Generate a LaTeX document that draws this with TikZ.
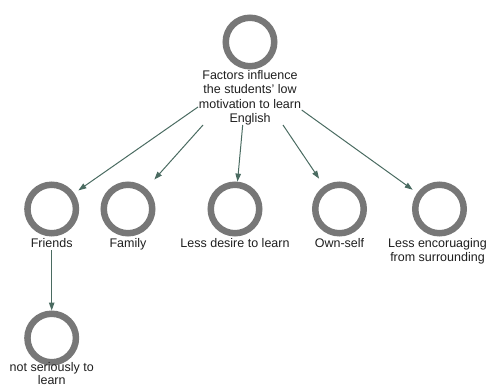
\documentclass[tikz,border=0pt]{standalone}
\usepackage{fontspec}
\setmainfont{Liberation Sans}
\usetikzlibrary{arrows.meta}
\definecolor{ringc}{HTML}{777777}
\definecolor{connc}{HTML}{4A6B61}
\definecolor{txtc}{HTML}{1E1E1E}
\begin{document}
\begin{tikzpicture}[x=1pt,y=-1pt,
  ringnode/.style={circle,draw=ringc,line width=6.5pt,minimum size=48.5pt,inner sep=0pt},
  lbl/.style={font=\fontsize{12.5}{14.3}\selectfont,text=txtc,inner sep=0pt,align=center,anchor=base},
  conn/.style={draw=connc,line width=1pt,-{Triangle[length=8pt,width=5.5pt]}}]
\useasboundingbox (0,0) rectangle (488,388);
% circles
\node[ringnode] (top) at (250,42) {};
\node[ringnode] (friends) at (51.7,209) {};
\node[ringnode] (family) at (128,209) {};
\node[ringnode] (desire) at (235,209) {};
\node[ringnode] (own) at (339.5,209) {};
\node[ringnode] (enc) at (439.5,209) {};
\node[ringnode] (serious) at (51.7,338) {};
% labels (base = last line's baseline)
\node[lbl] (toptext) at (250,122.4) {Factors influence\\the students' low\\motivation to learn\\English};
\node[lbl] (friendsl) at (51.7,247.5) {Friends};
\node[lbl] (familyl) at (128,247.5) {Family};
\node[lbl] (desirel) at (235,247.5) {Less desire to learn};
\node[lbl] (ownl) at (339.5,247.5) {Own-self};
\node[lbl] (encl) at (437.5,261.8) {Less encoruaging\\from surrounding};
\node[lbl,font=\fontsize{12.5}{13.6}\selectfont] (seriousl) at (51.7,384.6) {not seriously to\\learn};
% connector start points
\coordinate (s1) at (198,107);
\coordinate (s2) at (203,125);
\coordinate (s3) at (242.7,125);
\coordinate (s4) at (283,125);
\coordinate (s5) at (301.7,110);
\coordinate (s6) at (51.7,250);
% connectors
\draw[conn,shorten >=5pt] (s1) -- (friends);
\draw[conn,shorten >=12pt] (s2) -- (family);
\draw[conn] (s3) -- (desire);
\draw[conn,shorten >=9pt] (s4) -- (own);
\draw[conn,shorten >=5.5pt] (s5) -- (enc);
\draw[conn] (s6) -- (serious);
\end{tikzpicture}
\end{document}
